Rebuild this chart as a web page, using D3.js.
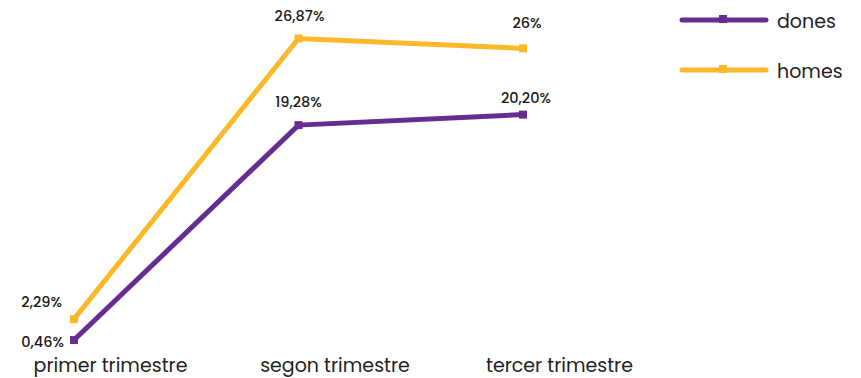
<!DOCTYPE html>
<html><head><meta charset="utf-8">
<script src="https://cdn.jsdelivr.net/npm/d3@7"></script>
<style>body{margin:0;background:#fff;}svg{display:block;font-family:Poppins,Inter,"Open Sans",sans-serif;}</style>
</head><body><svg id="c" width="861" height="378"></svg>
<script>
const categories = ["primer trimestre","segon trimestre","tercer trimestre"];
const dones = [0.46, 19.28, 20.20];
const homes = [2.29, 26.87, 26];
const donesLabels = ["0,46%","19,28%","20,20%"];
const homesLabels = ["2,29%","26,87%","26%"];
const seriesNames = ["dones","homes"];
const colors = ["#652d90","#fbb829"];

const svg = d3.select("#c");
const x = d3.scalePoint().domain(categories).range([74, 523]);
const y = d3.scaleLinear().domain([0, 30]).range([345.3, 2.7]);

// label offsets (dx, dy) relative to each point, per series
const labelOffsets = [
  [[-10, 7, "end"], [0, -18, "middle"], [3, -12, "middle"]],
  [[-12, -12, "end"], [1, -17, "middle"], [4, -20, "middle"]]
];

const series = [
  {name: seriesNames[0], values: dones, labels: donesLabels, color: colors[0]},
  {name: seriesNames[1], values: homes, labels: homesLabels, color: colors[1]}
];

// axis labels
const axis = d3.axisBottom(x).tickSize(0).tickPadding(0);
const ag = svg.append("g").attr("transform","translate(36,355)").call(axis);
ag.select(".domain").remove();
ag.selectAll("text").attr("font-size",19).attr("fill","#222").attr("dy","0.9em").style("font-family","Poppins,Inter,'Open Sans',sans-serif");

const line = d3.line().x((d,i)=>x(categories[i])).y(d=>y(d));
series.forEach((s,si)=>{
  svg.append("path").datum(s.values).attr("d",line).attr("fill","none")
    .attr("stroke",s.color).attr("stroke-width",5).attr("stroke-linejoin","miter");
  svg.selectAll(null).data(s.values).enter().append("rect")
    .attr("x",(d,i)=>x(categories[i])-4).attr("y",d=>y(d)-4)
    .attr("width",8).attr("height",8).attr("fill",s.color);
  svg.selectAll(null).data(s.values).enter().append("text")
    .attr("x",(d,i)=> x(categories[i]) + labelOffsets[si][i][0])
    .attr("y",(d,i)=> y(d) + labelOffsets[si][i][1])
    .attr("text-anchor",(d,i)=> labelOffsets[si][i][2])
    .attr("font-size",14.5).attr("font-weight",500).attr("fill","#1a1a1a")
    .text((d,i)=>s.labels[i]);
});

// legend
const lg = svg.append("g");
series.forEach((s,i)=>{
  const yy = 20 + i*50;
  lg.append("line").attr("x1",682).attr("x2",766).attr("y1",yy).attr("y2",yy)
    .attr("stroke",s.color).attr("stroke-width",5).attr("stroke-linecap","round");
  lg.append("rect").attr("x",719).attr("y",yy-5).attr("width",8).attr("height",8).attr("fill",s.color);
  lg.append("text").attr("x",777).attr("y",yy+8).attr("font-size",19).attr("fill","#222").text(s.name);
});
</script></body></html>
